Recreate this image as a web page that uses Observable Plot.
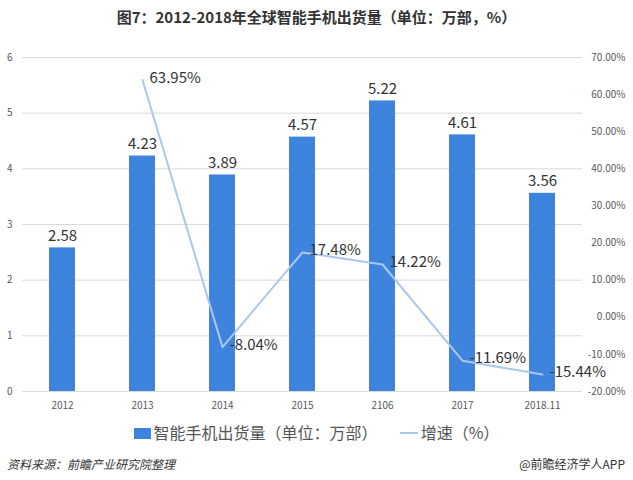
<!DOCTYPE html>
<html><head><meta charset="utf-8">
<script src="https://cdn.jsdelivr.net/npm/d3@7"></script>
<script src="https://cdn.jsdelivr.net/npm/@observablehq/plot@0.6"></script>
<style>
body{margin:0;background:#fff;font-family:"Noto Sans CJK SC","Noto Sans",sans-serif;}
#wrap{position:relative;width:633px;height:480px;overflow:hidden;}
#title{position:absolute;top:6px;left:0;width:633px;text-align:center;font-size:15px;font-weight:bold;color:#333;}
#chart{position:absolute;top:40px;left:0;}
#legend{position:absolute;top:420px;left:0;width:633px;text-align:center;font-size:16px;color:#555;}
#legend span.sw{display:inline-block;width:17px;height:11px;background:#3e84dc;vertical-align:0px;margin-right:3px;}
#legend span.ln{display:inline-block;width:18px;height:2px;background:#a9c8ea;vertical-align:5px;margin-left:22px;margin-right:3px;}
#src{position:absolute;top:455px;left:7px;font-size:12px;font-style:italic;color:#333;}
#app{position:absolute;top:455px;right:8px;font-size:12px;color:#333;}
</style></head>
<body><div id="wrap">
<div id="title">图7：2012-2018年全球智能手机出货量（单位：万部，%）</div>
<div id="chart"></div>
<div id="legend"><span class="sw"></span>智能手机出货量（单位：万部）<span class="ln"></span>增速（%）</div>
<div id="src">资料来源：前瞻产业研究院整理</div>
<div id="app">@前瞻经济学人APP</div>
</div>
<script>
const categories = ["2012","2013","2014","2015","2106","2017","2018.11"];
const shipments = [2.58,4.23,3.89,4.57,5.22,4.61,3.56];
const growth = [null,63.95,-8.04,17.48,14.22,-11.69,-15.44];
const leftTicks = [0,1,2,3,4,5,6];
const rightTicks = [-20,-10,0,10,20,30,40,50,60,70];

const pMin = -20, pMax = 70, yMax = 6;
const toY = p => (p - pMin) / (pMax - pMin) * yMax;

const bars = categories.map((c,i)=>({cat:c, v:shipments[i]}));
const line = categories.map((c,i)=>({cat:c, g:growth[i]})).filter(d=>d.g!==null);

const chart = Plot.plot({
  width: 633, height: 375,
  marginTop: 17, marginBottom: 24, marginLeft: 22, marginRight: 51,
  style:{fontFamily:"'Noto Sans CJK SC','Noto Sans',sans-serif", background:"#fff"},
  x:{domain:categories, paddingInner:0.67, paddingOuter:0.335, label:null},
  y:{domain:[0,yMax], label:null},
  marks:[
    Plot.gridY(leftTicks,{stroke:"#d9d9d9", strokeOpacity:1}),
    Plot.axisY(leftTicks,{anchor:"left", tickSize:0, tickPadding:10, fontSize:10, fill:"#595959", label:null, tickFormat:d=>String(d)}),
    Plot.axisY(rightTicks.map(toY),{anchor:"right", tickSize:0, tickPadding:43, textAnchor:"end", fontSize:10, fill:"#595959", label:null,
      tickFormat: v => (v/yMax*(pMax-pMin)+pMin).toFixed(2)+"%"}),
    Plot.axisX({tickSize:0, tickPadding:10, fontSize:10, fill:"#595959", label:null}),
    Plot.barY(bars,{x:"cat", y:"v", fill:"#3e84dc"}),
    Plot.text(bars,{x:"cat", y:"v", text:d=>d.v.toFixed(2), dy:-12, fontSize:15, fill:"#333"}),
    Plot.line(line,{x:"cat", y:d=>toY(d.g), stroke:"#a9c8ea", strokeWidth:2}),
    Plot.text(line,{x:"cat", y:d=>toY(d.g), text:d=>d.g.toFixed(2)+"%", textAnchor:"start", dx:7, dy:-2, fontSize:15, fill:"#333"})
  ]
});
document.getElementById("chart").appendChild(chart);
</script>
</body></html>
